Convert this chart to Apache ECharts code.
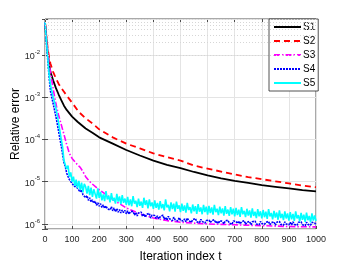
<!DOCTYPE html>
<html>
<head>
<meta charset="utf-8">
<script src="https://cdn.jsdelivr.net/npm/echarts@6/dist/echarts.min.js"></script>
<style>html,body{margin:0;padding:0;background:#fff}#c{width:350px;height:263px}</style>
</head>
<body>
<div id="c"></div>
<script>
// ---- data (values stored as log10 of relative error) ----
const seriesNames = ['S1', 'S2', 'S3', 'S4', 'S5'];
const xTicks = [0, 100, 200, 300, 400, 500, 600, 700, 800, 900, 1000];

const s1T = [0,5,10,15,20,30,40,50,60,70,80,100,120,150,175,200,250,300,350,400,450,500,550,600,650,700,750,800,850,900,950,1000];
const s1Log = [-1.22,-1.6,-1.95,-2.2,-2.4,-2.6,-2.78,-2.93,-3.07,-3.2,-3.3,-3.46,-3.58,-3.74,-3.84,-3.95,-4.1,-4.25,-4.38,-4.5,-4.6,-4.68,-4.77,-4.85,-4.92,-4.98,-5.03,-5.08,-5.12,-5.16,-5.2,-5.23];

const s2T = [0,5,10,15,20,30,40,50,60,70,80,100,125,150,175,200,250,300,350,400,450,500,550,600,650,700,750,800,850,900,950,1000];
const s2Log = [-1.22,-1.55,-1.85,-2.05,-2.2,-2.4,-2.55,-2.68,-2.78,-2.87,-2.96,-3.13,-3.35,-3.5,-3.62,-3.76,-3.95,-4.1,-4.21,-4.33,-4.42,-4.5,-4.62,-4.69,-4.76,-4.83,-4.89,-4.94,-4.99,-5.04,-5.09,-5.13];

const s3T = [0,5,10,15,20,30,40,50,60,70,80,90,100,120,130,140,150,160,170,200,250,300,350,400,450,500,600,700,800,900,1000];
const s3Log = [-1.22,-1.6,-1.95,-2.2,-2.4,-2.8,-3.15,-3.42,-3.65,-3.88,-4.12,-4.33,-4.45,-4.6,-4.66,-4.76,-4.88,-4.96,-5.03,-5.19,-5.42,-5.62,-5.76,-5.86,-5.92,-5.96,-6.0,-6.02,-6.04,-6.06,-6.07];

// S4 and S5 sampled every 5 iterations, t = 0..1000
const s4Log = [
-1.22,-1.70,-2.10,-2.50,-2.85,-3.00,-3.15,-3.30,-3.45,-3.62,-3.80,-3.98,-4.15,-4.35,-4.55,-4.64,-4.80,-4.84,-4.95,-4.96,-5.04,
-5.02,-5.12,-5.07,-5.16,-5.13,-5.24,-5.19,-5.31,-5.27,-5.38,-5.33,-5.44,-5.38,-5.48,-5.43,-5.51,-5.46,-5.56,-5.50,-5.58,
-5.52,-5.61,-5.55,-5.63,-5.57,-5.64,-5.60,-5.67,-5.59,-5.69,-5.62,-5.71,-5.64,-5.72,-5.66,-5.74,-5.67,-5.73,-5.68,-5.76,
-5.69,-5.77,-5.71,-5.75,-5.70,-5.79,-5.73,-5.81,-5.74,-5.78,-5.72,-5.82,-5.76,-5.84,-5.77,-5.81,-5.75,-5.86,-5.79,-5.83,
-5.80,-5.87,-5.81,-5.88,-5.83,-5.85,-5.79,-5.89,-5.84,-5.91,-5.82,-5.88,-5.85,-5.92,-5.84,-5.90,-5.86,-5.93,-5.85,-5.91,
-5.87,-5.93,-5.88,-5.95,-5.86,-5.92,-5.89,-5.96,-5.90,-5.93,-5.87,-5.95,-5.91,-5.97,-5.89,-5.94,-5.90,-5.98,-5.92,-5.95,
-5.91,-5.97,-5.92,-5.96,-5.90,-5.98,-5.93,-5.99,-5.92,-5.96,-5.94,-6.00,-5.93,-5.97,-5.91,-5.98,-5.95,-6.01,-5.93,-5.97,
-5.94,-5.99,-5.93,-6.00,-5.95,-5.98,-5.92,-6.01,-5.96,-5.99,-5.94,-6.02,-5.95,-5.98,-5.93,-6.00,-5.96,-6.02,-5.94,-5.99,
-5.95,-6.01,-5.96,-5.99,-5.94,-6.02,-5.97,-6.00,-5.95,-6.03,-5.96,-5.99,-5.94,-6.01,-5.97,-6.03,-5.95,-6.00,-5.96,-6.02,
-5.96,-6.02,-5.95,-6.01,-5.97,-6.03,-5.96,-5.99,-5.95,-6.02,-5.98,-6.04,-5.96,-6.01,-5.97,-6.03,-5.96,-6.00,-5.98,-6.01
];
const s5Log = [
-1.22,-1.65,-2.05,-2.45,-2.70,-2.85,-3.00,-3.12,-3.25,-3.42,-3.60,-3.80,-4.00,-4.18,-4.50,-4.48,-4.70,-4.62,-4.88,-4.78,-5.00,
-4.88,-5.10,-4.95,-5.15,-4.98,-5.20,-5.02,-5.25,-5.05,-5.12,-5.28,-5.10,-5.32,-5.14,-5.36,-5.18,-5.22,-5.40,-5.16,-5.38,
-5.24,-5.44,-5.30,-5.46,-5.22,-5.42,-5.33,-5.49,-5.27,-5.45,-5.38,-5.52,-5.29,-5.47,-5.35,-5.53,-5.32,-5.50,-5.40,-5.55,
-5.36,-5.56,-5.42,-5.58,-5.34,-5.52,-5.45,-5.60,-5.40,-5.57,-5.47,-5.62,-5.38,-5.55,-5.44,-5.63,-5.42,-5.58,-5.49,-5.64,
-5.44,-5.62,-5.50,-5.66,-5.46,-5.63,-5.53,-5.68,-5.42,-5.61,-5.55,-5.70,-5.49,-5.65,-5.52,-5.71,-5.47,-5.64,-5.56,-5.72,
-5.52,-5.69,-5.56,-5.73,-5.50,-5.67,-5.60,-5.75,-5.54,-5.70,-5.58,-5.76,-5.53,-5.71,-5.61,-5.77,-5.55,-5.72,-5.59,-5.78,
-5.57,-5.74,-5.61,-5.78,-5.55,-5.72,-5.64,-5.79,-5.59,-5.75,-5.63,-5.80,-5.58,-5.76,-5.66,-5.81,-5.60,-5.77,-5.64,-5.82,
-5.62,-5.79,-5.66,-5.83,-5.60,-5.77,-5.69,-5.84,-5.64,-5.80,-5.68,-5.85,-5.63,-5.81,-5.71,-5.86,-5.65,-5.82,-5.70,-5.87,
-5.67,-5.84,-5.71,-5.88,-5.65,-5.82,-5.74,-5.89,-5.69,-5.85,-5.73,-5.90,-5.68,-5.86,-5.76,-5.91,-5.70,-5.87,-5.75,-5.92,
-5.72,-5.89,-5.76,-5.93,-5.70,-5.87,-5.79,-5.94,-5.74,-5.90,-5.78,-5.95,-5.73,-5.91,-5.81,-5.96,-5.75,-5.92,-5.80,-5.93
];
const noisyStep = 5;

// ---- build ----
const pairs = (ts, logs) => ts.map((t, i) => [t, Math.pow(10, logs[i])]);
const sampled = (logs) => logs.map((v, i) => [i * noisyStep, Math.pow(10, v)]);

const yMin = 7.6e-7, yMax = 0.071;
const minorVals = [];
for (let e = -7; e <= -2; e++) for (let m = 2; m <= 9; m++) {
  const v = m * Math.pow(10, e);
  if (v > yMin && v < yMax) minorVals.push({ yAxis: v });
}

const axisColor = '#262626';
const font = "'Liberation Sans', Arial, Helvetica, sans-serif";

const chart = echarts.init(document.getElementById('c'), null, { renderer: 'canvas' });

function yLabel(v) {
  const l = Math.log10(v);
  const e = Math.round(l);
  if (Math.abs(l - e) > 0.01) return '';
  return '{b|10}{s|' + e + '}';
}

chart.setOption({
  animation: false,
  backgroundColor: '#fff',
  textStyle: { fontFamily: font },
  grid: { left: 45, right: 34, top: 19, bottom: 34, show: true, borderColor: axisColor, borderWidth: 0.8,
          backgroundColor: 'transparent', containLabel: false, outerBoundsMode: 'none' },
  legend: {
    data: seriesNames,
    orient: 'vertical',
    left: 269, top: 19,
    padding: [3, 3, 3, 4],
    itemGap: 4,
    itemWidth: 27, itemHeight: 10,
    backgroundColor: '#fff',
    borderColor: axisColor, borderWidth: 0.8,
    borderRadius: 0,
    itemStyle: { opacity: 0 },
    textStyle: { fontSize: 10, color: '#000', fontFamily: font, padding: [0, 0, 0, -3] }
  },
  xAxis: [{
    type: 'value', min: 0, max: 1000, interval: 100,
    name: 'Iteration index t', nameLocation: 'middle', nameGap: 22, nameMoveOverlap: false,
    nameTextStyle: { fontSize: 12, color: '#000', fontFamily: font },
    axisLine: { show: false },
    axisTick: { show: true, inside: true, length: 3, lineStyle: { color: axisColor, width: 0.8 } },
    axisLabel: { fontSize: 9, color: axisColor, margin: 6, fontFamily: font, formatter: v => String(v) },
    splitLine: { show: true, lineStyle: { color: '#e4e4e4', width: 1 } }
  }, {
    type: 'value', min: 0, max: 1000, interval: 100, position: 'top',
    axisLine: { show: false },
    axisTick: { show: true, inside: true, length: 3, lineStyle: { color: axisColor, width: 0.8 } },
    axisLabel: { show: false }, splitLine: { show: false }
  }],
  yAxis: [{
    type: 'log', logBase: 10, min: yMin, max: yMax,
    name: 'Relative error', nameLocation: 'middle', nameGap: 23, nameMoveOverlap: false,
    nameTextStyle: { fontSize: 12, color: '#000', fontFamily: font },
    axisLine: { show: false },
    axisTick: { show: true, inside: true, length: 3, lineStyle: { color: axisColor, width: 0.8 } },
    axisLabel: {
      formatter: yLabel, margin: 5, color: axisColor,
      rich: {
        b: { fontSize: 9, color: axisColor, fontFamily: font, lineHeight: 12, verticalAlign: 'bottom' },
        s: { fontSize: 6, color: axisColor, fontFamily: font, lineHeight: 12, verticalAlign: 'top', padding: [0, 0, 5, 0] }
      }
    },
    splitLine: { show: true, lineStyle: { color: '#e4e4e4', width: 1 } }
  }, {
    type: 'log', logBase: 10, min: yMin, max: yMax, position: 'right',
    axisLine: { show: false },
    axisTick: { show: true, inside: true, length: 3, lineStyle: { color: axisColor, width: 0.8 } },
    axisLabel: { show: false }, splitLine: { show: false }
  }],
  series: [
    {
      name: 'minor', type: 'line', data: [], z: 1, silent: true,
      markLine: {
        silent: true, symbol: ['none', 'none'], label: { show: false },
        lineStyle: { type: [1, 2], color: '#d6d6d6', width: 1 },
        data: minorVals, animation: false
      }
    },
    { name: 'S1', type: 'line', z: 3, showSymbol: false, symbol: 'none', data: pairs(s1T, s1Log),
      lineStyle: { color: '#000000', width: 1.8 }, itemStyle: { color: '#000000' } },
    { name: 'S2', type: 'line', z: 3, showSymbol: false, symbol: 'none', data: pairs(s2T, s2Log),
      lineStyle: { color: '#ff0000', width: 1.8, type: [6, 4] }, itemStyle: { color: '#ff0000' } },
    { name: 'S3', type: 'line', z: 3, showSymbol: false, symbol: 'none', data: pairs(s3T, s3Log),
      lineStyle: { color: '#ff00ff', width: 1.6, type: [6, 2, 1.5, 2] }, itemStyle: { color: '#ff00ff' } },
    { name: 'S4', type: 'line', z: 3, showSymbol: false, symbol: 'none', data: sampled(s4Log),
      lineStyle: { color: '#0000ff', width: 1.6, type: [2, 1] }, itemStyle: { color: '#0000ff' } },
    { name: 'S5', type: 'line', z: 3, showSymbol: false, symbol: 'none', data: sampled(s5Log),
      lineStyle: { color: '#00ffff', width: 1.6 }, itemStyle: { color: '#00ffff' } }
  ]
});
</script>
</body>
</html>
